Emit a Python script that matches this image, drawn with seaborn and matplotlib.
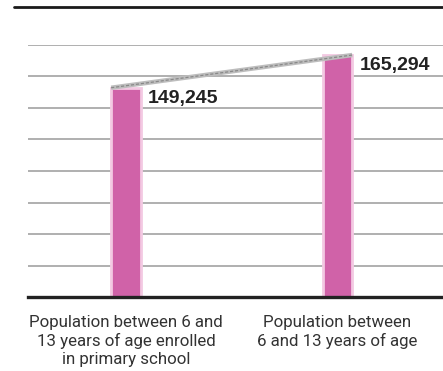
import matplotlib
matplotlib.use("Agg")
import matplotlib.pyplot as plt
from matplotlib.lines import Line2D
import pandas as pd
import seaborn as sns

# Data
categories = [
    "Population between 6 and\n13 years of age enrolled\nin primary school",
    "Population between\n6 and 13 years of age",
]
values = [149245, 165294]
value_labels = ["149,245", "165,294"]

sns.set_theme(style="white")
plt.rcParams["font.family"] = ["Roboto", "DejaVu Sans"]

W, H = 443, 371
fig = plt.figure(figsize=(W / 100, H / 100), dpi=100)
ax = fig.add_axes([28 / W, 1 - 297.3 / H, 1 - 28 / W, (297.3 - 44.7) / H])

df = pd.DataFrame({"group": categories, "population": values})
bar_w = 0.14
sns.barplot(data=df, x="group", y="population", color="#D062A8", saturation=1,
            width=bar_w, edgecolor="#F3C9E2", linewidth=2, ax=ax, zorder=3)

# truncated value axis with evenly spaced guide lines
y_min, step = 46432, 15491
ax.set_ylim(y_min, y_min + 8 * step)
ax.set_yticks([y_min + i * step for i in range(9)])
ax.yaxis.grid(True, color="#A9A9A9", lw=1.3)
ax.set_axisbelow(True)
ax.set_xlim(-0.463, 1.499)

for side in ("top", "right", "left"):
    ax.spines[side].set_visible(False)
ax.spines["bottom"].set_color("#222222")
ax.spines["bottom"].set_linewidth(2.4)
ax.spines["bottom"].set_zorder(4)

ax.tick_params(left=False, labelleft=False, bottom=False, pad=7)
ax.set_xticks([0, 1])
ax.set_xticklabels(categories, fontsize=12.2, color="#333333", linespacing=1.22)
ax.set_xlabel("")
ax.set_ylabel("")

# connector ribbon between the bar tops
half = bar_w / 2
xs = [0 - half, 1 + half]
ax.plot(xs, values, color="#BDBDBD", lw=3.2, solid_capstyle="butt", zorder=4)
ax.plot(xs, values, color="#888888", lw=0.9, dashes=(2.5, 1.5), zorder=5)

# value labels
for i, (v, lab) in enumerate(zip(values, value_labels)):
    ax.annotate(lab, xy=(i + 0.105, v), xytext=(0, -7.5), textcoords="offset points",
                ha="left", va="center", fontsize=14, fontweight="bold",
                color="#222222", family=["Liberation Sans", "DejaVu Sans"],
                annotation_clip=False)

# header rule
fig.add_artist(Line2D([14 / W, 1], [1 - 7 / H, 1 - 7 / H], color="#1A1A1A", lw=2))

fig.savefig("out.png", dpi=100)
